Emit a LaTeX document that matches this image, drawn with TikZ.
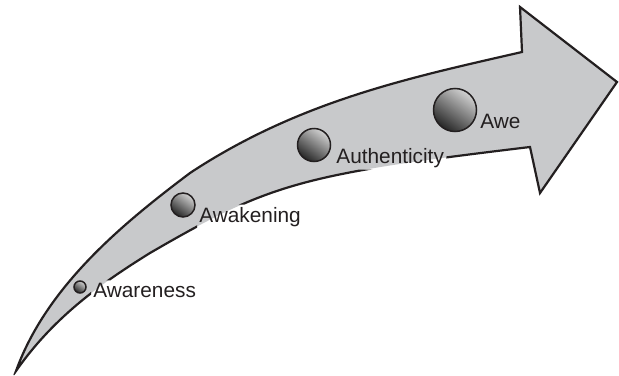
\documentclass[tikz,border=0pt]{standalone}
\usepackage{fontspec}
\setmainfont{Liberation Sans}
\definecolor{arrowgray}{RGB}{200,201,203}
\definecolor{inkc}{RGB}{35,31,32}
\begin{document}
\begin{tikzpicture}[x=0.5pt,y=-0.5pt,
  lbl/.style={anchor=base west, inner sep=1pt, text=inkc, font=\fontsize{10.4}{12}\selectfont},
  ball/.style={draw=inkc, line width=0.75pt, top color=gray!35, bottom color=black!85, shading angle=-35},
  outline/.style={draw=inkc, line width=1.1pt, line join=miter, miter limit=25}]
\useasboundingbox (0,0) rectangle (619,375);
\def\arrowpath{(16,371) .. controls (47,285) and (125,222) .. (190,173)
  .. controls (300,100.4) and (412,77.3) .. (522,52)
  -- (520,7) -- (617,82) -- (540,193) -- (530,147)
  .. controls (300,174.6) and (270,183.4) .. (150,253)
  .. controls (105,281) and (55,315) .. cycle}
% arrow body fill
\path[fill=arrowgray] \arrowpath;
% labels
\node[lbl] (t1) at (91,297) {Awareness};
\node[lbl] (t2) at (197,222) {Awakening};
\node[lbl] (t3) at (334,163) {Authenticity};
\node[lbl] (t4) at (478,128) {Awe};
% outline, hidden behind the labels
\begin{scope}[even odd rule]
\clip (0,0) -- (619,0) -- (619,375) -- (0,375) -- cycle
  (t1.north west) -- (t1.south west) -- (t1.south east) -- (t1.north east) -- cycle
  (t2.north west) -- (t2.south west) -- (t2.south east) -- (t2.north east) -- cycle
  (t3.north west) -- (t3.south west) -- (t3.south east) -- (t3.north east) -- cycle;
\path[outline] \arrowpath;
\end{scope}
% balls
\path[ball] (80,287) circle[radius=6] node (b1) {};
\path[ball] (183,205) circle[radius=12] node (b2) {};
\path[ball] (314,145) circle[radius=16.5] node (b3) {};
\path[ball] (455,110) circle[radius=21.5] node (b4) {};
\end{tikzpicture}
\end{document}
